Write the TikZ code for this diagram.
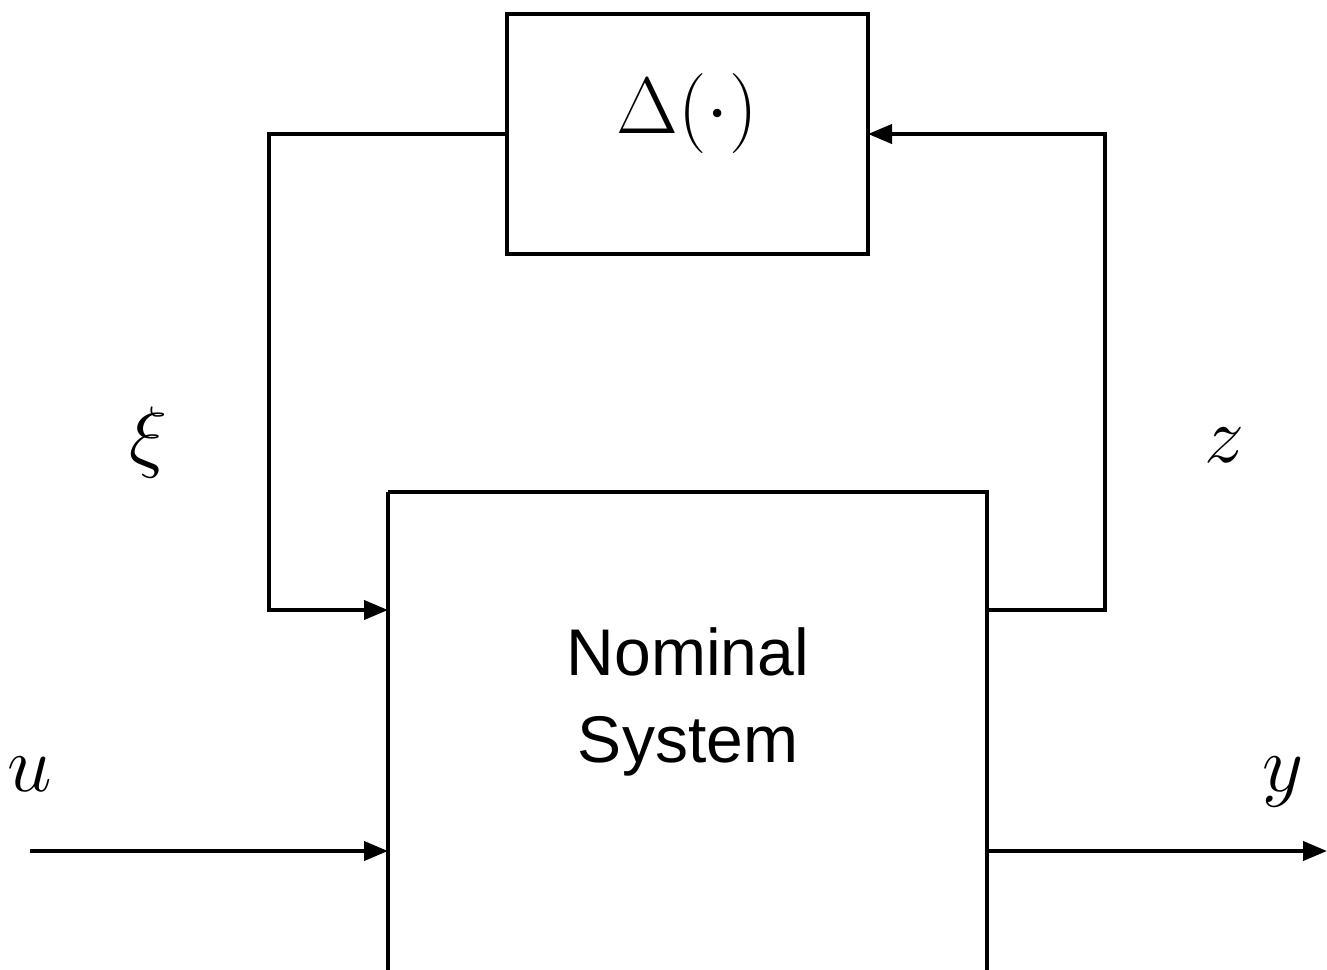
\RequirePackage{fix-cm}
\documentclass[tikz,border=0pt]{standalone}
\usepackage{fontspec}
\newfontfamily\labelsans{Liberation Sans}
\usetikzlibrary{arrows.meta}
\tikzset{
  blockbox/.style={draw, line width=4pt, inner sep=0pt},
  signal/.style={line width=4pt, -{Triangle[length=24pt,width=19pt]}},
  mathlabel/.style={inner sep=0pt, anchor=base, font=\fontsize{80}{92}\selectfont},
}
\begin{document}
\begin{tikzpicture}[x=1pt,y=-1pt]
  \useasboundingbox (0,0) rectangle (1327,969);
  \clip (0,0) rectangle (1327,969);
  % blocks
  \draw[blockbox] (507,14) rectangle (868,254);
  \coordinate (dl) at (507,134);
  \coordinate (dr) at (868,134);
  \node[mathlabel] (delta) at (687,133) {$\Delta(\cdot)$};
  \draw[blockbox] (388,492) -- (388,1010) (388,492) -- (987,492) -- (987,1010);
  \coordinate (nl1) at (388,610);
  \coordinate (nr1) at (987,610);
  \coordinate (nl2) at (388,851);
  \coordinate (nr2) at (987,851);
  \node[inner sep=0pt, align=center, anchor=base, font=\labelsans\fontsize{66}{87}\selectfont] (nom) at (688,762) {Nominal\\System};
  % feedback loops
  \coordinate (xicorner1) at (269,134);
  \coordinate (xicorner2) at (269,610);
  \coordinate (zcorner1) at (1105,610);
  \coordinate (zcorner2) at (1105,134);
  \draw[signal] (dl) -- (xicorner1) -- (xicorner2) -- (nl1);
  \draw[signal] (nr1) -- (zcorner1) -- (zcorner2) -- (dr);
  % external input and output
  \coordinate (uin) at (30,851);
  \coordinate (yout) at (1327,851);
  \draw[signal] (uin) -- (nl2);
  \draw[signal] (nr2) -- (yout);
  % signal names
  \node[mathlabel] (xi) at (149,462) {$\xi$};
  \node[mathlabel] (zl) at (1224,462) {$z$};
  \node[mathlabel] (ul) at (30,791) {$u$};
  \node[mathlabel] (yl) at (1283,791) {$y$};
\end{tikzpicture}
\end{document}
